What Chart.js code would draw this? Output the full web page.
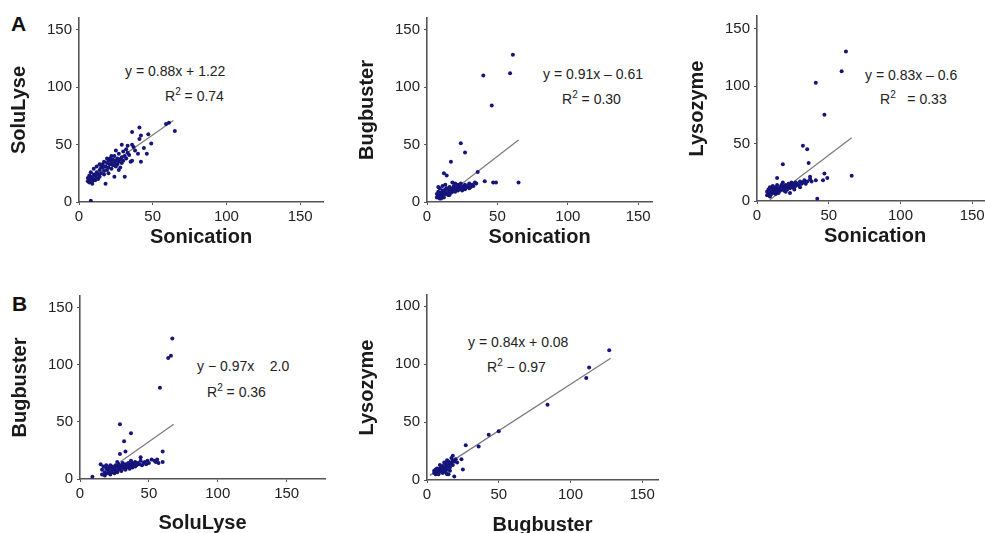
<!DOCTYPE html>
<html>
<head>
<meta charset="utf-8">
<script src="https://cdn.jsdelivr.net/npm/chart.js@4.4.1/dist/chart.umd.min.js"></script>
<style>
html, body { margin: 0; padding: 0; background: #fff; overflow: hidden; width: 985px; height: 533px; }
body { position: relative; font-family: "Liberation Sans", Arial, sans-serif; }
canvas { position: absolute; }
.lbl { position: absolute; font-weight: bold; font-size: 21px; color: #111; }
.eq { position: absolute; font-size: 14px; color: #222; white-space: pre; }
.eq sup { font-size: 10px; vertical-align: 6px; line-height: 0; }
</style>
</head>
<body>
<div class="lbl" style="left:11px;top:12px">A</div>
<div class="lbl" style="left:12px;top:292px">B</div>

<div class="eq" style="left:125px;top:63px">y = 0.88x + 1.22</div>
<div class="eq" style="left:165px;top:88px">R<sup>2</sup> = 0.74</div>
<div class="eq" style="left:543px;top:66px">y = 0.91x – 0.61</div>
<div class="eq" style="left:562px;top:91px">R<sup>2</sup> = 0.30</div>
<div class="eq" style="left:865px;top:67px">y = 0.83x – 0.6</div>
<div class="eq" style="left:880px;top:91px">R<sup>2</sup>   = 0.33</div>
<div class="eq" style="left:197px;top:358px">y − 0.97x    2.0</div>
<div class="eq" style="left:207px;top:384px">R<sup>2</sup> = 0.36</div>
<div class="eq" style="left:468px;top:334px">y = 0.84x + 0.08</div>
<div class="eq" style="left:487px;top:359px">R<sup>2</sup> − 0.97</div>

<canvas id="chartA1"></canvas>
<canvas id="chartA2"></canvas>
<canvas id="chartA3"></canvas>
<canvas id="chartB1"></canvas>
<canvas id="chartB2"></canvas>

<script>
// tick values shared by all panels
var xTicks = [0, 50, 100, 150];
var yTicks = [0, 50, 100, 150];
var yLabels = ['0', '50', '100', '150'];
var yLabelsB2 = ['0', '50', '100', '100'];   // top label really reads 100 in the figure

// A: SoluLyse vs Sonication  [sonication, solulyse]
var soluVsSonic = [
  [6,18],[7,20],[7,17],[8,19],[8,22],[9,18],[9,21],[10,20],[10,24],[11,19],[11,23],[12,21],[12,26],
  [13,20],[13,24],[14,22],[14,28],[15,25],[15,30],[8,26],[10,29],[12,31],[9,16],[6,21],[7,23],
  [16,30],[16,33],[17,27],[17,35],[18,16],[18,31],[19,34],[19,28],[20,36],[20,30],[21,33],[21,38],
  [22,35],[22,29],[23,32],[23,37],[24,40],[24,34],[24,22],[25,36],[25,31],[26,38],[26,33],[27,35],
  [27,42],[28,37],[28,30],[29,39],[29,34],[30,36],[30,44],[31,22],[31,40],[32,38],[32,46],[29,50],
  [33,49],[25,45],[22,40],[19,38],[14,33],[17,24],[20,25],[27,28],[33,43],[35,35],[36,50],[36,36],
  [37,48],[40,42],[42,35],[46,42],[41,55],[42,58],[47,59],[49,51],[36,61],[41,65],[59,68],[61,69],
  [65,62],[38,45],[44,47],[34,41],[8,1]
];
var soluTrend = [[6,19],[64,71]];

// A: Bugbuster vs Sonication
var bugVsSonic = [
  [7,4],[7,7],[8,5],[8,9],[9,6],[9,3],[10,8],[10,5],[11,7],[11,10],[12,6],[12,9],[13,8],[13,11],
  [14,7],[14,12],[15,9],[15,6],[16,10],[16,13],[17,8],[17,11],[18,12],[18,9],[19,14],[19,10],[20,12],
  [20,16],[21,11],[21,13],[22,15],[22,10],[23,12],[23,14],[24,11],[24,16],[25,13],[25,10],[26,14],
  [26,12],[27,15],[28,13],[29,14],[30,16],[31,13],[32,15],[33,14],[34,17],[35,16],[9,12],[11,14],
  [13,15],[8,13],[18,17],[27,11],[30,12],[12,4],[10,3],[16,6],[20,9],
  [61,128],[40,110],[59,112],[46,84],[24,51],[27,43],[17,35],[12,25],[14,23],[36,26],[41,18],
  [47,17],[49,17],[65,17]
];
var bugTrend = [[25,16],[65,54]];

// A: Lysozyme vs Sonication
var lysoVsSonic = [
  [7,5],[7,8],[8,6],[8,10],[9,7],[9,4],[10,9],[10,6],[11,8],[11,11],[12,7],[12,10],[13,9],[13,12],
  [14,8],[14,11],[15,10],[15,7],[16,12],[16,9],[17,11],[17,14],[18,10],[18,13],[19,12],[19,9],
  [20,14],[20,11],[21,13],[21,10],[22,15],[22,12],[23,11],[23,14],[24,13],[24,16],[25,12],[25,15],
  [26,14],[27,13],[27,16],[28,15],[29,14],[30,17],[31,15],[32,16],[33,18],[34,15],[35,17],[37,19],
  [9,12],[11,13],[14,14],[20,8],[23,7],[26,10],[30,12],[38,17],[18,16],[13,6],
  [62,130],[59,113],[41,103],[47,75],[32,48],[35,45],[18,32],[36,33],[37,21],[47,24],[49,20],
  [46,18],[66,22],[42,2],[14,20],[41,18]
];
var lysoTrend = [[9,1],[66,55]];

// B: Bugbuster vs SoluLyse
var bugVsSolu = [
  [16,4],[16,8],[17,11],[18,6],[18,3],[19,9],[19,12],[20,5],[20,8],[21,10],[21,7],[22,4],[22,12],
  [23,9],[23,6],[24,8],[24,11],[25,5],[25,9],[26,7],[26,12],[27,10],[27,6],[28,8],[28,13],[29,11],
  [29,9],[30,12],[30,7],[31,10],[31,14],[32,11],[32,9],[33,13],[33,8],[34,12],[34,10],[35,14],
  [35,11],[36,9],[36,13],[37,12],[37,16],[38,10],[38,14],[39,13],[40,15],[40,11],[41,12],[42,14],
  [43,13],[44,16],[45,12],[46,14],[47,15],[48,13],[49,16],[50,14],[52,17],[54,16],[55,15],[56,17],
  [57,14],[15,13],[27,15],[44,19],[9,2],
  [67,123],[66,108],[64,106],[58,80],[29,48],[37,40],[32,33],[33,24],[29,22],[60,24],[60,15]
];
var bugSoluTrend = [[28,14],[68,48]];

// B: Lysozyme vs Bugbuster
var lysoVsBug = [
  [5,6],[5,8],[6,7],[6,5],[7,8],[7,6],[8,9],[8,7],[9,8],[9,10],[10,7],[10,11],[11,9],[11,12],[12,10],
  [12,8],[13,11],[13,14],[14,12],[14,9],[15,13],[15,16],[16,14],[16,11],[17,15],[17,19],[18,21],
  [18,17],[19,16],[20,18],[9,13],[11,6],[13,7],[15,5],[6,9],[8,5],[12,15],[14,17],[16,8],[10,9],
  [7,10],[18,13],[21,15],
  [127,112],[113,97],[111,88],[84,65],[50,42],[43,39],[36,29],[27,30],[24,18],[25,9],[19,3],[14,5]
];
var lysoBugTrend = [[2,4],[128,105]];

function toXY(list) {
  return list.map(function (p) { return { x: p[0], y: p[1] }; });
}

function makeChart(id, pts, trend, xTitle, yTitle, xMax, yMax, labels, box) {
  var cv = document.getElementById(id);
  cv.width = box.w;
  cv.height = box.h;
  cv.style.left = box.x + 'px';
  cv.style.top = box.y + 'px';
  var tickFont = { family: '"Liberation Sans", Arial, sans-serif', size: 15 };
  var titleFont = { family: '"Liberation Sans", Arial, sans-serif', size: 20, weight: 'bold' };
  return new Chart(cv, {
    type: 'scatter',
    data: {
      datasets: [
        {
          data: toXY(pts),
          pointRadius: 2,
          pointBackgroundColor: '#14147a',
          pointBorderWidth: 0,
          showLine: false
        },
        {
          data: toXY(trend),
          showLine: true,
          borderColor: '#7c7c7c',
          borderWidth: 1.3,
          pointRadius: 0
        }
      ]
    },
    options: {
      responsive: false,
      animation: false,
      devicePixelRatio: 1,
      layout: { padding: { left: 0, top: 10, right: 10, bottom: 0 } },
      plugins: { legend: { display: false }, tooltip: { enabled: false } },
      scales: {
        x: {
          type: 'linear', min: 0, max: xMax,
          afterBuildTicks: function (s) { s.ticks = xTicks.map(function (v) { return { value: v }; }); },
          afterFit: function (s) { s.height = box.xh; },
          ticks: { font: tickFont, color: '#222', padding: 3, maxRotation: 0, autoSkip: false },
          grid: { drawOnChartArea: false, color: '#555', tickLength: 3 },
          border: { color: '#555', width: 1.6 },
          title: { display: true, text: xTitle, font: titleFont, color: '#1a1a1a', padding: { top: 0, bottom: 0 } }
        },
        y: {
          type: 'linear', min: 0, max: yMax,
          afterBuildTicks: function (s) { s.ticks = yTicks.map(function (v) { return { value: v }; }); },
          afterFit: function (s) { s.width = 75; },
          ticks: {
            font: tickFont, color: '#222', padding: 4, autoSkip: false,
            callback: function (v, i) { return labels[i]; }
          },
          grid: { drawOnChartArea: false, color: '#555', tickLength: 3 },
          border: { color: '#555', width: 1.6 },
          title: { display: true, text: yTitle, font: titleFont, color: '#1a1a1a', padding: { top: 3, bottom: 0 } }
        }
      }
    }
  });
}

makeChart('chartA1', soluVsSonic, soluTrend, 'Sonication', 'SoluLyse', 165.5, 160.4, yLabels,
  { x: 4, y: 5, w: 329, h: 244, xh: 47 });
makeChart('chartA2', bugVsSonic, bugTrend, 'Sonication', 'Bugbuster', 159.8, 160, yLabels,
  { x: 352, y: 5, w: 310, h: 244, xh: 47 });
makeChart('chartA3', lysoVsSonic, lysoTrend, 'Sonication', 'Lysozyme', 164.5, 161, yLabels,
  { x: 682, y: 3, w: 321, h: 245, xh: 47 });
makeChart('chartB1', bugVsSolu, bugSoluTrend, 'SoluLyse', 'Bugbuster', 177.8, 160.3, yLabels,
  { x: 5, y: 283, w: 330, h: 252, xh: 56 });
makeChart('chartB2', lysoVsBug, lysoBugTrend, 'Bugbuster', 'Lysozyme', 161, 159.6, yLabelsB2,
  { x: 352, y: 282, w: 316, h: 255, xh: 57 });
</script>
</body>
</html>
